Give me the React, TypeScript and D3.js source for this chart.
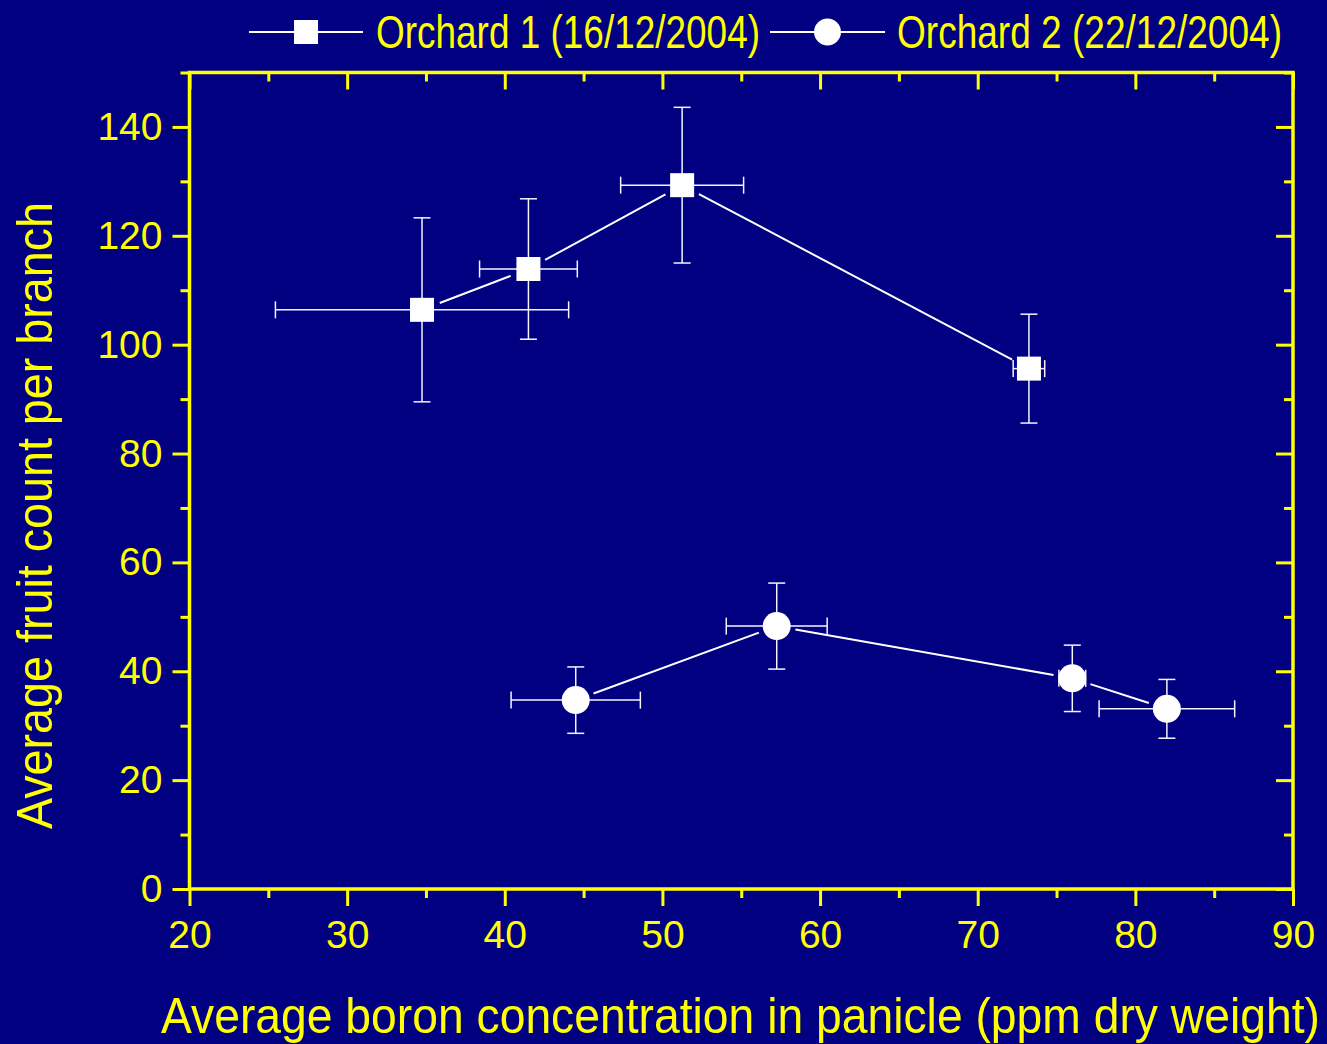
import { useEffect, useRef } from "react";
import * as d3 from "d3";

const orchard1X = [34.75, 41.5, 51.25, 73.25];
const orchard1Y = [106.4, 113.9, 129.3, 95.6];
const orchard1XErr = [9.3, 3.1, 3.9, 1.0];
const orchard1YErr = [16.9, 12.9, 14.3, 10.0];

const orchard2X = [44.5, 57.25, 76.0, 82.0];
const orchard2Y = [34.7, 48.3, 38.7, 33.1];
const orchard2XErr = [4.1, 3.2, 0.85, 4.3];
const orchard2YErr = [6.1, 7.9, 6.1, 5.4];

const xMajorTicks = [20, 30, 40, 50, 60, 70, 80, 90];
const xMinorTicks = [25, 35, 45, 55, 65, 75, 85];
const yMajorTicks = [0, 20, 40, 60, 80, 100, 120, 140];
const yMinorTicks = [10, 30, 50, 70, 90, 110, 130, 150];

const legendLabels = ["Orchard 1 (16/12/2004)", "Orchard 2 (22/12/2004)"];
const xTitle = "Average boron concentration in panicle (ppm dry weight)";
const yTitle = "Average fruit count per branch";

const W = 1327;
const H = 1044;
const YELLOW = "#ffff00";
const NAVY = "#000080";
const FONT = "'Liberation Sans', Arial, sans-serif";

const App = () => {
  const ref = useRef<SVGSVGElement | null>(null);

  useEffect(() => {
    const svg = d3.select(ref.current);
    svg.selectAll("*").remove();

    const left = 189.5;
    const right = 1293;
    const top = 72.5;
    const bottom = 889;

    const x = d3.scaleLinear().domain([20, 90]).range([left, right]);
    const y = d3.scaleLinear().domain([0, 150]).range([bottom, top]);

    svg.append("rect").attr("width", W).attr("height", H).attr("fill", NAVY);

    // axes: bottom/left outward, top/right inward
    const styleAxis = (g: d3.Selection<SVGGElement, unknown, null, undefined>) => {
      g.select(".domain").remove();
      g.selectAll(".tick line").attr("stroke", YELLOW).attr("stroke-width", 3);
      g.selectAll(".tick text")
        .attr("fill", YELLOW)
        .attr("font-family", FONT)
        .attr("font-size", 39);
    };

    svg
      .append("g")
      .attr("transform", `translate(0,${bottom})`)
      .call(d3.axisBottom(x).tickValues(xMajorTicks).tickSize(17).tickPadding(14).tickSizeOuter(0))
      .call(styleAxis);
    svg
      .append("g")
      .attr("transform", `translate(0,${bottom})`)
      .call(d3.axisBottom(x).tickValues(xMinorTicks).tickSize(9).tickFormat(() => "").tickSizeOuter(0))
      .call(styleAxis);
    svg
      .append("g")
      .attr("transform", `translate(${left},0)`)
      .call(d3.axisLeft(y).tickValues(yMajorTicks).tickSize(17).tickPadding(10).tickSizeOuter(0))
      .call(styleAxis);
    svg
      .append("g")
      .attr("transform", `translate(${left},0)`)
      .call(d3.axisLeft(y).tickValues(yMinorTicks).tickSize(9).tickFormat(() => "").tickSizeOuter(0))
      .call(styleAxis);
    svg
      .append("g")
      .attr("transform", `translate(0,${top})`)
      .call(d3.axisTop(x).tickValues(xMajorTicks).tickSize(-17).tickFormat(() => "").tickSizeOuter(0))
      .call(styleAxis);
    svg
      .append("g")
      .attr("transform", `translate(0,${top})`)
      .call(d3.axisTop(x).tickValues(xMinorTicks).tickSize(-9).tickFormat(() => "").tickSizeOuter(0))
      .call(styleAxis);
    svg
      .append("g")
      .attr("transform", `translate(${right},0)`)
      .call(d3.axisRight(y).tickValues(yMajorTicks).tickSize(-17).tickFormat(() => "").tickSizeOuter(0))
      .call(styleAxis);
    svg
      .append("g")
      .attr("transform", `translate(${right},0)`)
      .call(d3.axisRight(y).tickValues(yMinorTicks).tickSize(-9).tickFormat(() => "").tickSizeOuter(0))
      .call(styleAxis);

    svg
      .append("rect")
      .attr("x", left)
      .attr("y", top)
      .attr("width", right - left)
      .attr("height", bottom - top)
      .attr("fill", "none")
      .attr("stroke", YELLOW)
      .attr("stroke-width", 3.5);

    const series = [
      { xs: orchard1X, ys: orchard1Y, xe: orchard1XErr, ye: orchard1YErr, shape: "square" },
      { xs: orchard2X, ys: orchard2Y, xe: orchard2XErr, ye: orchard2YErr, shape: "circle" },
    ];

    const cap = 8.5;
    const gap = 19;

    series.forEach((s) => {
      const pts = s.xs.map((v, i) => ({ x: v, y: s.ys[i], xe: s.xe[i], ye: s.ye[i] }));
      const eg = svg.append("g").attr("stroke", "#f4f4ff").attr("stroke-width", 1.5);
      pts.forEach((p) => {
        const cx = x(p.x);
        const cy = y(p.y);
        const x0 = x(p.x - p.xe);
        const x1 = x(p.x + p.xe);
        const y0 = y(p.y - p.ye);
        const y1 = y(p.y + p.ye);
        eg.append("line").attr("x1", x0).attr("x2", x1).attr("y1", cy).attr("y2", cy);
        eg.append("line").attr("x1", x0).attr("x2", x0).attr("y1", cy - cap).attr("y2", cy + cap);
        eg.append("line").attr("x1", x1).attr("x2", x1).attr("y1", cy - cap).attr("y2", cy + cap);
        eg.append("line").attr("x1", cx).attr("x2", cx).attr("y1", y0).attr("y2", y1);
        eg.append("line").attr("x1", cx - cap).attr("x2", cx + cap).attr("y1", y0).attr("y2", y0);
        eg.append("line").attr("x1", cx - cap).attr("x2", cx + cap).attr("y1", y1).attr("y2", y1);
      });

      const lg = svg.append("g").attr("stroke", "#ffffff").attr("stroke-width", 2);
      for (let i = 0; i < pts.length - 1; i++) {
        const ax = x(pts[i].x);
        const ay = y(pts[i].y);
        const bx = x(pts[i + 1].x);
        const by = y(pts[i + 1].y);
        const d = Math.hypot(bx - ax, by - ay);
        const ux = (bx - ax) / d;
        const uy = (by - ay) / d;
        lg.append("line")
          .attr("x1", ax + ux * gap)
          .attr("y1", ay + uy * gap)
          .attr("x2", bx - ux * gap)
          .attr("y2", by - uy * gap);
      }

      const mg = svg.append("g").attr("fill", "#ffffff");
      pts.forEach((p) => {
        if (s.shape === "square") {
          mg.append("rect")
            .attr("x", x(p.x) - 12)
            .attr("y", y(p.y) - 12)
            .attr("width", 24)
            .attr("height", 24);
        } else {
          mg.append("circle").attr("cx", x(p.x)).attr("cy", y(p.y)).attr("r", 14);
        }
      });
    });

    // legend
    const leg = [
      { x1: 249, x2: 363, tx: 376, tl: 384, shape: "square" },
      { x1: 770, x2: 885, tx: 897, tl: 385, shape: "circle" },
    ];
    leg.forEach((l, i) => {
      const cy = 32;
      const mx = (l.x1 + l.x2) / 2;
      svg.append("line")
        .attr("x1", l.x1)
        .attr("x2", l.x2)
        .attr("y1", cy)
        .attr("y2", cy)
        .attr("stroke", "#ffffff")
        .attr("stroke-width", 2);
      if (l.shape === "square") {
        svg.append("rect").attr("x", mx - 12).attr("y", cy - 12).attr("width", 24).attr("height", 24).attr("fill", "#fff");
      } else {
        svg.append("circle").attr("cx", mx).attr("cy", cy).attr("r", 13.5).attr("fill", "#fff");
      }
      svg.append("text")
        .attr("x", l.tx)
        .attr("y", 48)
        .attr("fill", YELLOW)
        .attr("font-family", FONT)
        .attr("font-size", 46)
        .attr("textLength", l.tl)
        .attr("lengthAdjust", "spacingAndGlyphs")
        .text(legendLabels[i]);
    });

    svg.append("text")
      .attr("x", 161)
      .attr("y", 1033)
      .attr("fill", YELLOW)
      .attr("font-family", FONT)
      .attr("font-size", 50)
      .attr("textLength", 1159)
      .attr("lengthAdjust", "spacingAndGlyphs")
      .text(xTitle);

    svg.append("text")
      .attr("transform", "translate(52,829) rotate(-90)")
      .attr("fill", YELLOW)
      .attr("font-family", FONT)
      .attr("font-size", 50)
      .attr("textLength", 627)
      .attr("lengthAdjust", "spacingAndGlyphs")
      .text(yTitle);
  }, []);

  return (
    <svg
      ref={ref}
      width={W}
      height={H}
      style={{ position: "absolute", left: 0, top: 0, display: "block" }}
    />
  );
};

export default App;
